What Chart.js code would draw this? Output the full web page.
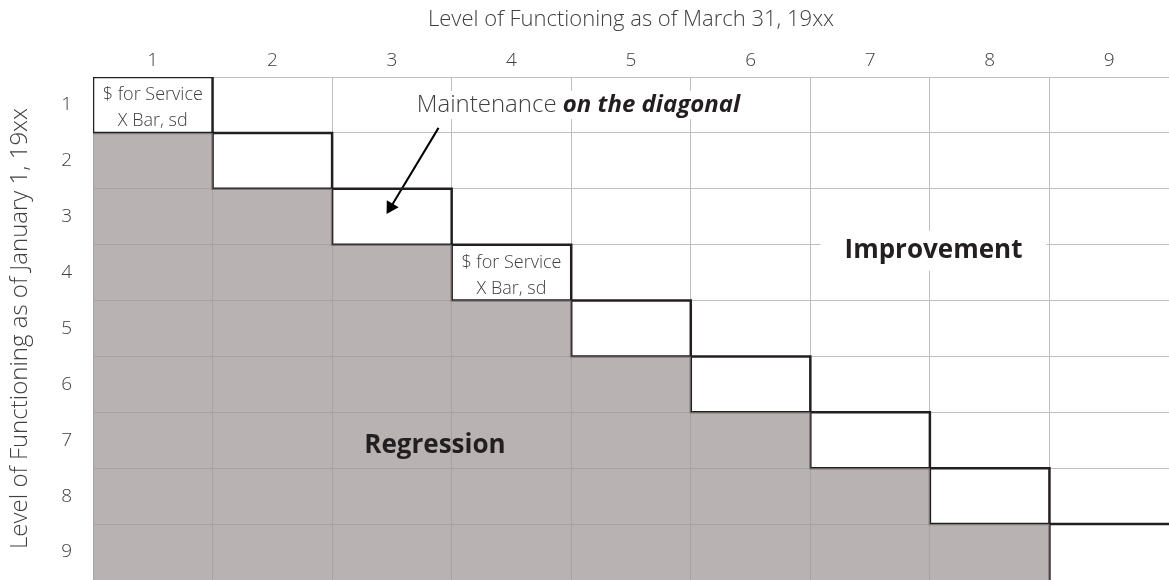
<!DOCTYPE html>
<html>
<head>
<meta charset="utf-8">
<script src="https://cdn.jsdelivr.net/npm/chart.js@4"></script>
<style>
    html, body { margin: 0; padding: 0; background: #ffffff; }
    #wrap { width: 1169px; height: 580px; }
</style>
</head>
<body>
<div id="wrap"><canvas id="chart" width="1169" height="580"></canvas></div>
<script>
// Levels of functioning on both axes.
const levels = [1, 2, 3, 4, 5, 6, 7, 8, 9];
const xTitle = "Level of Functioning as of March 31, 19xx";
const yTitle = "Level of Functioning as of January 1, 19xx";

// Cell edges along x, and the staircase that bounds the diagonal cells.
const cellEdges = [0.5, 1.5, 2.5, 3.5, 4.5, 5.5, 6.5, 7.5, 8.5, 9.5];
const diagonalTop = [0.5, 1.5, 2.5, 3.5, 4.5, 5.5, 6.5, 7.5, 8.5, 8.5];
const diagonalBottom = [1.5, 2.5, 3.5, 4.5, 5.5, 6.5, 7.5, 8.5, 9.5];
const regressionTop = [1.5, 2.5, 3.5, 4.5, 5.5, 6.5, 7.5, 8.5, 9.5, 9.5];

// Arrow from the note to the diagonal.
const arrowX = [3.39, 2.99];
const arrowY = [1.41, 2.83];

// Text placed in the grid (data coordinates).
const cellNotes = [
    { x: 1, y: 1, lines: ["$ for Service", "X Bar, sd"] },
    { x: 4, y: 4, lines: ["$ for Service", "X Bar, sd"] }
];
const maintenanceNote = { x: 4.56, y: 1.0, plain: "Maintenance ", emph: "on the diagonal" };
const regionNotes = [
    { x: 7.53, y: 3.61, text: "Improvement", boxed: true },
    { x: 3.36, y: 7.1, text: "Regression", boxed: false }
];

const FONT = "'Open Sans', Lato, sans-serif";
const textColor = "#404040";
const lineColor = "#231f20";

const toPoints = (xs, ys) => xs.map((x, i) => ({ x, y: ys[i] }));

const notesPlugin = {
    id: "notes",
    afterDatasetsDraw(chart) {
        const { ctx, scales: { x, y } } = chart;
        ctx.save();
        ctx.textBaseline = "middle";
        ctx.textAlign = "center";

        // small two-line notes inside diagonal cells
        ctx.fillStyle = textColor;
        ctx.font = `300 18px ${FONT}`;
        for (const note of cellNotes) {
            const px = x.getPixelForValue(note.x);
            const py = y.getPixelForValue(note.y);
            ctx.fillText(note.lines[0], px, py - 10);
            ctx.fillText(note.lines[1], px, py + 16);
        }

        // Maintenance on the diagonal
        const m = maintenanceNote;
        ctx.font = `300 24px ${FONT}`;
        const w1 = ctx.measureText(m.plain).width;
        ctx.font = `italic bold 24px ${FONT}`;
        const w2 = ctx.measureText(m.emph).width;
        const cx = x.getPixelForValue(m.x);
        const cy = y.getPixelForValue(m.y);
        const left = cx - (w1 + w2) / 2;
        ctx.fillStyle = "#ffffff";
        ctx.fillRect(left - 8, cy - 14, w1 + w2 + 16, 28);
        ctx.textAlign = "left";
        ctx.fillStyle = textColor;
        ctx.font = `300 24px ${FONT}`;
        ctx.fillText(m.plain, left, cy);
        ctx.fillStyle = lineColor;
        ctx.font = `italic bold 24px ${FONT}`;
        ctx.fillText(m.emph, left + w1, cy);

        // region labels
        ctx.textAlign = "center";
        ctx.font = `bold 26px ${FONT}`;
        for (const note of regionNotes) {
            const px = x.getPixelForValue(note.x);
            const py = y.getPixelForValue(note.y);
            if (note.boxed) {
                const w = ctx.measureText(note.text).width;
                ctx.fillStyle = "#ffffff";
                ctx.fillRect(px - w / 2 - 24, py - 20, w + 48, 40);
            }
            ctx.fillStyle = lineColor;
            ctx.fillText(note.text, px, py);
        }
        ctx.restore();
    }
};

const halfStep = v => Math.abs(v % 1) === 0.5;

new Chart(document.getElementById("chart"), {
    type: "scatter",
    data: {
        datasets: [
            {
                // shaded regression area below the diagonal
                data: toPoints(cellEdges, regressionTop),
                showLine: true,
                stepped: true,
                borderWidth: 0,
                borderColor: "rgba(0,0,0,0)",
                backgroundColor: "rgba(160,152,152,0.75)",
                fill: { value: 9.5 },
                pointRadius: 0
            },
            {
                data: toPoints(cellEdges, diagonalTop),
                showLine: true,
                stepped: true,
                borderWidth: 2.5,
                borderColor: lineColor,
                pointRadius: 0
            },
            {
                data: toPoints(cellEdges.slice(0, 9), diagonalBottom),
                showLine: true,
                stepped: true,
                borderWidth: 2.5,
                borderColor: lineColor,
                pointRadius: 0
            },
            {
                // left side of the first cell
                data: toPoints([0.5, 0.5], [0.5, 1.5]),
                showLine: true,
                borderWidth: 2.5,
                borderColor: lineColor,
                pointRadius: 0
            },
            {
                data: toPoints(arrowX, arrowY),
                showLine: true,
                borderWidth: 2,
                borderColor: "#000000",
                backgroundColor: "#000000",
                pointStyle: "triangle",
                pointRadius: [0, 8],
                pointRotation: 211,
                pointBorderWidth: 0
            }
        ]
    },
    options: {
        responsive: false,
        devicePixelRatio: 1,
        animation: false,
        layout: { padding: 0, autoPadding: false },
        plugins: {
            legend: { display: false },
            tooltip: { enabled: false }
        },
        scales: {
            x: {
                type: "linear",
                position: "top",
                min: 0.5,
                max: 9.5,
                afterFit: s => { s.height = 77; s.paddingLeft = 0; s.paddingRight = 0; },
                border: { display: false },
                grid: {
                    drawTicks: false,
                    lineWidth: 1,
                    color: c => halfStep(c.tick.value) ? "#bebebe" : "rgba(0,0,0,0)"
                },
                ticks: {
                    stepSize: 0.5,
                    autoSkip: false,
                    maxRotation: 0,
                    padding: 5,
                    color: textColor,
                    font: { family: FONT, size: 19, weight: 300 },
                    callback: v => levels.includes(v) ? String(v) : ""
                },
                title: {
                    display: true,
                    text: xTitle,
                    color: textColor,
                    font: { family: FONT, size: 22, weight: 300 },
                    padding: { top: 7, bottom: 0 }
                }
            },
            y: {
                type: "linear",
                reverse: true,
                min: 0.5,
                max: 9.5,
                afterFit: s => { s.width = 93; s.paddingTop = 0; s.paddingBottom = 0; },
                border: { display: false },
                grid: {
                    drawTicks: false,
                    lineWidth: 1,
                    color: c => halfStep(c.tick.value) ? "#bebebe" : "rgba(0,0,0,0)"
                },
                ticks: {
                    stepSize: 0.5,
                    autoSkip: false,
                    padding: 21,
                    color: textColor,
                    font: { family: FONT, size: 19, weight: 300 },
                    callback: v => levels.includes(v) ? String(v) : ""
                },
                title: {
                    display: true,
                    text: yTitle,
                    color: textColor,
                    font: { family: FONT, size: 24, weight: 300 },
                    padding: { top: 6, bottom: 0 }
                }
            }
        }
    },
    plugins: [notesPlugin]
});
</script>
</body>
</html>
